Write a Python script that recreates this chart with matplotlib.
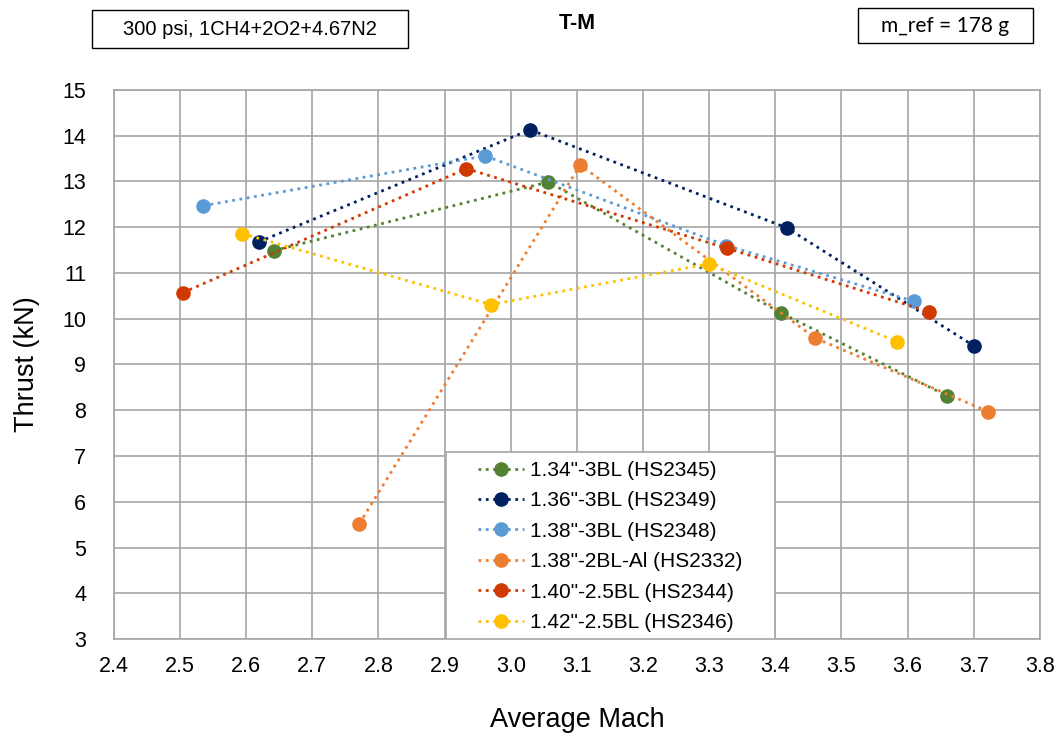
import matplotlib.pyplot as plt
from matplotlib.patches import Rectangle

plt.rcParams['font.family'] = ['Liberation Sans', 'DejaVu Sans']

# Average Mach vs thrust for each nozzle / run
mach_hs2345 = [2.642, 3.057, 3.408, 3.659]
thrust_hs2345 = [11.49, 12.99, 10.13, 8.32]

mach_hs2349 = [2.619, 3.029, 3.417, 3.700]
thrust_hs2349 = [11.68, 14.13, 11.99, 9.41]

mach_hs2348 = [2.535, 2.961, 3.326, 3.610]
thrust_hs2348 = [12.47, 13.56, 11.60, 10.38]

mach_hs2332 = [2.771, 3.105, 3.460, 3.722]
thrust_hs2332 = [5.52, 13.36, 9.58, 7.97]

mach_hs2344 = [2.504, 2.933, 3.327, 3.633]
thrust_hs2344 = [10.57, 13.28, 11.54, 10.15]

mach_hs2346 = [2.594, 2.970, 3.299, 3.584]
thrust_hs2346 = [11.86, 10.31, 11.20, 9.50]

serie = [
    (mach_hs2345, thrust_hs2345, '#548235', '1.34"-3BL (HS2345)'),
    (mach_hs2349, thrust_hs2349, '#002060', '1.36"-3BL (HS2349)'),
    (mach_hs2348, thrust_hs2348, '#5B9BD5', '1.38"-3BL (HS2348)'),
    (mach_hs2332, thrust_hs2332, '#ED7D31', '1.38"-2BL-Al (HS2332)'),
    (mach_hs2344, thrust_hs2344, '#D03A00', '1.40"-2.5BL (HS2344)'),
    (mach_hs2346, thrust_hs2346, '#FFC000', '1.42"-2.5BL (HS2346)'),
]

fig = plt.figure(figsize=(10.6, 7.35), dpi=100)
ax = fig.add_axes([0.1075, 0.1306, 0.8735, 0.747])

for x, y, colore, nome in serie:
    ax.plot(x, y, color=colore, linestyle=':', linewidth=2, marker='o',
            markersize=9.5, label=nome)

ax.set_xlim(2.4, 3.8)
ax.set_ylim(3, 15)
ax.set_xticks([2.4 + 0.1 * i for i in range(15)])
ax.set_xticklabels([f'{2.4 + 0.1 * i:.1f}' for i in range(15)])
ax.set_yticks(range(3, 16))
ax.tick_params(axis='y', length=0, labelsize=15.5, pad=20)
ax.tick_params(axis='x', length=0, labelsize=15.5, pad=12)
ax.grid(True, color='#A6A6A6', linewidth=1.2)
ax.set_axisbelow(True)
for s in ax.spines.values():
    s.set_color('#A6A6A6')
    s.set_linewidth(1.2)

ax.set_xlabel('Average Mach', fontsize=19.5, labelpad=22)
ax.set_ylabel('Thrust (kN)', fontsize=19.5, labelpad=16)

# riquadro della legenda (piu' largo del contenuto)
ax.add_patch(Rectangle((0.3585, 0.0), 0.3555, 0.3406, transform=ax.transAxes,
                       facecolor='white', edgecolor='#A6A6A6', linewidth=1.2, zorder=4))
leg = ax.legend(loc='center', bbox_to_anchor=(0.5362, 0.1685), fontsize=15,
                frameon=False, handlelength=2.2, labelspacing=0.55,
                borderpad=0.3, handletextpad=0.3)
leg.set_zorder(5)

fig.text(0.545, 0.968, 'T-M', fontsize=15.5, fontweight='bold', ha='center', va='center')

# riquadri di testo in alto
fig.patches.append(Rectangle((0.0868, 0.9347), 0.2981, 0.0517, transform=fig.transFigure,
                             facecolor='white', edgecolor='black', linewidth=1))
fig.text(0.2358, 0.9605, '300 psi, 1CH4+2O2+4.67N2', fontsize=14.5, ha='center', va='center')
fig.patches.append(Rectangle((0.8094, 0.9415), 0.1651, 0.0476, transform=fig.transFigure,
                             facecolor='white', edgecolor='black', linewidth=1))
fig.text(0.892, 0.9653, 'm_ref = 178 g', fontsize=15, ha='center', va='center',
         family=['Lato', 'DejaVu Sans'])

fig.savefig('out.png', dpi=100)
